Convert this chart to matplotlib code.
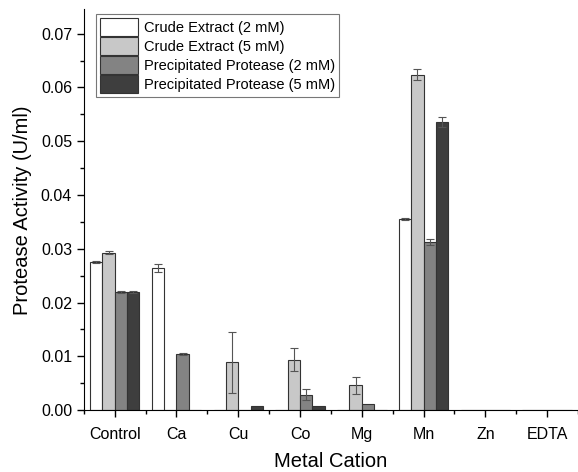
import numpy as np
import matplotlib
matplotlib.use("Agg")
import matplotlib.pyplot as plt
from matplotlib.ticker import MultipleLocator

plt.rcParams['font.family'] = ['Liberation Sans', 'DejaVu Sans']

cations = ['Control', 'Ca', 'Cu', 'Co', 'Mg', 'Mn', 'Zn', 'EDTA']
series = ['Crude Extract (2 mM)', 'Crude Extract (5 mM)',
          'Precipitated Protease (2 mM)', 'Precipitated Protease (5 mM)']

crude_2 = [0.0276, 0.0264, 0, 0, 0, 0.0355, 0, 0]
crude_2_err = [0.0002, 0.0008, 0, 0, 0, 0.0002, 0, 0]
crude_5 = [0.0293, 0, 0.0089, 0.0094, 0.0046, 0.0624, 0, 0]
crude_5_err = [0.0002, 0, 0.0057, 0.0022, 0.0016, 0.0011, 0, 0]
prec_2 = [0.0220, 0.0104, 0, 0.0029, 0.0012, 0.0313, 0, 0]
prec_2_err = [0.0002, 0.0002, 0, 0.001, 0, 0.0006, 0, 0]
prec_5 = [0.0220, 0, 0.0008, 0.0008, 0, 0.0536, 0, 0]
prec_5_err = [0.0002, 0, 0, 0, 0, 0.0009, 0, 0]

colors = ['#ffffff', '#c8c8c8', '#838383', '#3e3e3e']
values = [crude_2, crude_5, prec_2, prec_5]
errors = [crude_2_err, crude_5_err, prec_2_err, prec_5_err]

fig = plt.figure(figsize=(5.78, 4.72), dpi=100)
ax = fig.add_axes([0.145, 0.131, 0.855, 0.849])

x = np.arange(len(cations))
w = 0.2
for i in range(4):
    pos = x + (i - 1.5) * w
    ax.bar(pos, values[i], w, color=colors[i], edgecolor='#333333',
           linewidth=0.8, label=series[i], zorder=2)
    errs = np.array(errors[i])
    mask = errs > 0
    ax.errorbar(pos[mask], np.array(values[i])[mask], yerr=errs[mask],
                fmt='none', ecolor='#555555', elinewidth=0.8,
                capsize=3, capthick=0.8, zorder=3)

ax.set_xlim(-0.5, 7.5)
ax.set_ylim(0, 0.0745)
ax.set_xticks(x)
ax.set_xticklabels(cations)
ax.xaxis.set_minor_locator(MultipleLocator(0.5))
ax.yaxis.set_major_locator(MultipleLocator(0.01))
ax.yaxis.set_minor_locator(MultipleLocator(0.005))
ax.yaxis.set_major_formatter(matplotlib.ticker.FormatStrFormatter('%.2f'))
ax.tick_params(axis='both', which='major', labelsize=11.5, length=5, width=1)
ax.tick_params(axis='x', which='major', pad=7)
ax.tick_params(axis='both', which='minor', length=3, width=1)
ax.spines['top'].set_visible(False)
ax.spines['right'].set_visible(False)
ax.set_xlabel('Metal Cation', fontsize=14.5, labelpad=7)
ax.set_ylabel('Protease Activity (U/ml)', fontsize=14.5, labelpad=6)

leg = ax.legend(loc='upper left', bbox_to_anchor=(0.015, 1.0), fontsize=10.5,
                frameon=True, fancybox=False, edgecolor='#555555',
                handlelength=2.6, handleheight=1.45, labelspacing=0.12,
                borderpad=0.3, handletextpad=0.4, borderaxespad=0.3)
leg.get_frame().set_linewidth(0.8)

fig.savefig('out.png', dpi=100)
